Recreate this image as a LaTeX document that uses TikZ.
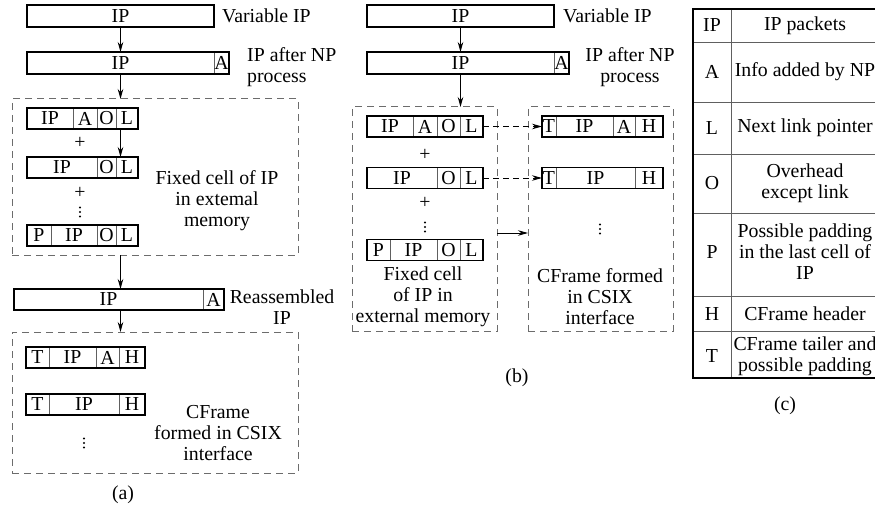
\documentclass[tikz,border=0pt]{standalone}
\usepackage{fontspec}
\setmainfont{Liberation Serif}
\usetikzlibrary{positioning,arrows.meta}

\tikzset{
	cell/.style={draw=gray!75!black, line width=0.8pt, anchor=west, inner sep=0pt, outer sep=0pt, minimum height=21pt},
	pkt/.style={line width=1.6pt},
	grp/.style={draw=gray!85!black, dash pattern=on 7pt off 5pt, line width=1pt, inner sep=0pt, outer sep=0pt},
	arr/.style={line width=0.9pt, -{Stealth[length=10pt,width=5.5pt]}},
	lbl/.style={align=center, inner sep=0pt},
	tline/.style={draw=gray!75!black, line width=0.8pt}
}

\begin{document}
\begin{tikzpicture}[x=1pt,y=-1pt,font=\fontsize{19.8}{21}\selectfont]
	\newcommand\Vdots[2]{\fill (#1,{#2-4.5}) circle (1.2pt) (#1,#2) circle (1.2pt) (#1,{#2+4.5}) circle (1.2pt);}
	\useasboundingbox (0,0) rectangle (875,508);

	% (a)
	\node[cell, minimum width=187pt, minimum height=22pt] (aV) at (27,16) {IP};
	\draw[pkt] (aV.north west) rectangle (aV.south east);
	\node[lbl, anchor=west] (aVl) at (222,16) {Variable IP};

	\node[cell, minimum width=187pt, minimum height=22pt] (aNip) at (27,63) {IP};
	\node[cell, minimum width=15pt, minimum height=22pt, right=0pt of aNip] (aNa) {A};
	\draw[pkt] (aNip.north west) rectangle (aNa.south east);
	\node[lbl, anchor=west, align=left] (aNl) at (247,67) {IP after NP\\process};
	\draw[arr] (aV) -- (aNip);

	\node[grp, minimum width=286pt, minimum height=156pt] (memA) at (155,177) {};
	\draw[arr] (aNip) -- (aNip |- memA.north);

	\node[cell, minimum width=46pt] (a1ip) at (27,118.5) {IP};
	\node[cell, minimum width=24pt, right=0pt of a1ip] (a1a) {A};
	\node[cell, minimum width=19pt, right=0pt of a1a] (a1o) {O};
	\node[cell, minimum width=22pt, right=0pt of a1o] (a1l) {L};
	\draw[pkt] (a1ip.north west) rectangle (a1l.south east);
	\node[lbl] (a1p) at (80,143) {+};

	\node[cell, minimum width=70pt] (a2ip) at (27,167.5) {IP};
	\node[cell, minimum width=19pt, right=0pt of a2ip] (a2o) {O};
	\node[cell, minimum width=22pt, right=0pt of a2o] (a2l) {L};
	\draw[pkt] (a2ip.north west) rectangle (a2l.south east);
	\draw[arr] (a1l.south -| aV.south) -- (a2l.north -| aV.south);
	\node[lbl] (a2p) at (80,193) {+};
	\Vdots{80}{212}

	\node[cell, minimum width=24pt] (a3p) at (27,235.5) {P};
	\node[cell, minimum width=46pt, right=0pt of a3p] (a3ip) {IP};
	\node[cell, minimum width=19pt, right=0pt of a3ip] (a3o) {O};
	\node[cell, minimum width=22pt, right=0pt of a3o] (a3l) {L};
	\draw[pkt] (a3p.north west) rectangle (a3l.south east);
	\node[lbl] (memAl) at (217,201) {Fixed cell of IP\\in extemal\\memory};

	\node[cell, minimum width=189pt] (aRip) at (14,299.5) {IP};
	\node[cell, minimum width=21pt, right=0pt of aRip] (aRa) {A};
	\draw[pkt] (aRip.north west) rectangle (aRa.south east);
	\node[lbl] (aRl) at (282,307.5) {Reassembled\\IP};
	\draw[arr] (memA.south -| aV.south) -- (aRip.north -| aV.south);

	\node[grp, minimum width=286pt, minimum height=141pt] (csA) at (155,402.5) {};
	\draw[arr] (aRip.south -| aV.south) -- (csA.north -| aV.south);

	\node[cell, minimum width=23pt] (a4t) at (26,357.5) {T};
	\node[cell, minimum width=47pt, right=0pt of a4t] (a4ip) {IP};
	\node[cell, minimum width=23pt, right=0pt of a4ip] (a4a) {A};
	\node[cell, minimum width=26pt, right=0pt of a4a] (a4h) {H};
	\draw[pkt] (a4t.north west) rectangle (a4h.south east);

	\node[cell, minimum width=23pt] (a5t) at (26,404.5) {T};
	\node[cell, minimum width=70pt, right=0pt of a5t] (a5ip) {IP};
	\node[cell, minimum width=26pt, right=0pt of a5ip] (a5h) {H};
	\draw[pkt] (a5t.north west) rectangle (a5h.south east);
	\Vdots{84}{443}
	\node[lbl] (csAl) at (218,433) {CFrame\\formed in CSIX\\interface};
	\node[lbl] (capA) at (123,495) {(a)};

	% (b)
	\node[cell, minimum width=187pt, minimum height=22pt] (bV) at (367,16) {IP};
	\draw[pkt] (bV.north west) rectangle (bV.south east);
	\node[lbl, anchor=west] (bVl) at (563,16) {Variable IP};

	\node[cell, minimum width=187pt, minimum height=22pt] (bNip) at (367,63) {IP};
	\node[cell, minimum width=15pt, minimum height=22pt, right=0pt of bNip] (bNa) {A};
	\draw[pkt] (bNip.north west) rectangle (bNa.south east);
	\node[lbl] (bNl) at (630,67) {IP after NP\\process};
	\draw[arr] (bV) -- (bNip);

	\node[grp, minimum width=145pt, minimum height=224pt] (memB) at (424.5,219) {};
	\node[grp, minimum width=145pt, minimum height=224pt] (csB) at (600.5,219) {};
	\draw[arr] (bNip) -- (bNip |- memB.north);

	\node[cell, minimum width=46pt] (b1ip) at (367,126.5) {IP};
	\node[cell, minimum width=24pt, right=0pt of b1ip] (b1a) {A};
	\node[cell, minimum width=23pt, right=0pt of b1a] (b1o) {O};
	\node[cell, minimum width=23pt, right=0pt of b1o] (b1l) {L};
	\draw[pkt] (b1ip.north west) rectangle (b1l.south east);
	\node[lbl] (b1p) at (425,155) {+};

	\node[cell, minimum width=70pt] (b2ip) at (367,178) {IP};
	\node[cell, minimum width=23pt, right=0pt of b2ip] (b2o) {O};
	\node[cell, minimum width=23pt, right=0pt of b2o] (b2l) {L};
	\draw[pkt] (b2ip.north west) rectangle (b2l.south east);
	\node[lbl] (b2p) at (425,203) {+};
	\Vdots{425}{227}

	\node[cell, minimum width=23pt] (b3p) at (367,250) {P};
	\node[cell, minimum width=47pt, right=0pt of b3p] (b3ip) {IP};
	\node[cell, minimum width=23pt, right=0pt of b3ip] (b3o) {O};
	\node[cell, minimum width=23pt, right=0pt of b3o] (b3l) {L};
	\draw[pkt] (b3p.north west) rectangle (b3l.south east);

	\node[cell, minimum width=14pt] (b1t) at (542,126.5) {T};
	\node[cell, minimum width=57pt, right=0pt of b1t] (b1cip) {IP};
	\node[cell, minimum width=22pt, right=0pt of b1cip] (b1ca) {A};
	\node[cell, minimum width=28pt, right=0pt of b1ca] (b1h) {H};
	\draw[pkt] (b1t.north west) rectangle (b1h.south east);

	\node[cell, minimum width=14pt] (b2t) at (542,178) {T};
	\node[cell, minimum width=79pt, right=0pt of b2t] (b2cip) {IP};
	\node[cell, minimum width=28pt, right=0pt of b2cip] (b2h) {H};
	\draw[pkt] (b2t.north west) rectangle (b2h.south east);

	\draw[arr, dash pattern=on 6pt off 4pt] (b1l) -- (b1t);
	\draw[arr, dash pattern=on 6pt off 4pt] (b2l) -- (b2t);
	\draw[arr] ([yshift=-14pt]memB.east) -- ([yshift=-14pt]csB.west);
	\Vdots{600}{229}

	\node[lbl] (memBl) at (423,297) {Fixed cell\\of IP in\\external memory};
	\node[lbl] (csBl) at (600,297) {CFrame formed\\in CSIX\\interface};
	\node[lbl] (capB) at (517,378) {(b)};

	% (c)
	\draw[tline] (693,42) -- (880,42);
	\draw[tline] (693,102) -- (880,102);
	\draw[tline] (693,154) -- (880,154);
	\draw[tline] (693,213) -- (880,213);
	\draw[tline] (693,296) -- (880,296);
	\draw[tline] (693,331) -- (880,331);
	\draw[tline] (731,9) -- (731,378);
	\draw[pkt] (693,9) rectangle (880,378);

	\node[lbl] (kIP) at (712,25.5) {IP};
	\node[lbl] (vIP) at (805,25.5) {IP packets};
	\node[lbl] (kA) at (712,72) {A};
	\node[lbl] (vA) at (805,72) {Info added by NP};
	\node[lbl] (kL) at (712,128) {L};
	\node[lbl] (vL) at (805,128) {Next link pointer};
	\node[lbl] (kO) at (712,183.5) {O};
	\node[lbl] (vO) at (805,183.5) {Overhead\\except link};
	\node[lbl] (kP) at (712,252) {P};
	\node[lbl] (vP) at (805,252) {Possible padding\\in the last cell of\\IP};
	\node[lbl] (kH) at (712,314) {H};
	\node[lbl] (vH) at (805,314) {CFrame header};
	\node[lbl] (kT) at (712,356) {T};
	\node[lbl] (vT) at (805,356) {CFrame tailer and\\possible padding};
	\node[lbl] (capC) at (785,406) {(c)};
\end{tikzpicture}
\end{document}
